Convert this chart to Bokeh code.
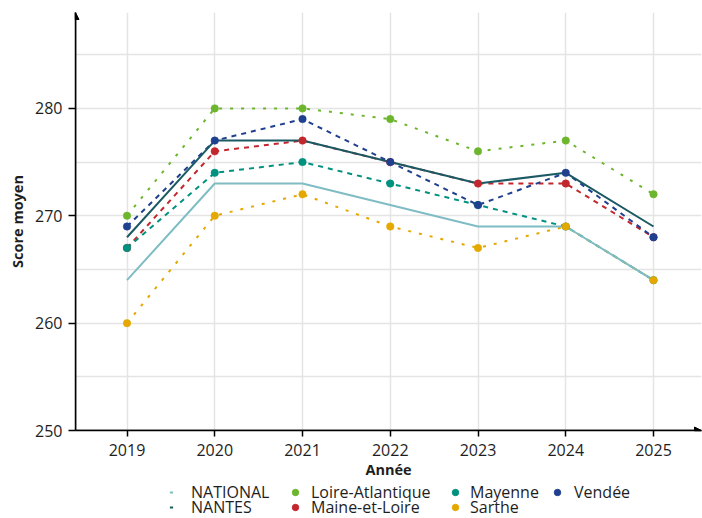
from bokeh.plotting import figure
from bokeh.layouts import column
from bokeh.models import Range1d, FixedTicker, Legend, LegendItem, Arrow, NormalHead
from bokeh.embed import file_html
from bokeh.resources import INLINE

# ---- data ----
years = [2019, 2020, 2021, 2022, 2023, 2024, 2025]
national = [264, 273, 273, 271, 269, 269, 264]
nantes = [268, 277, 277, 275, 273, 274, 269]
loire_atlantique = [270, 280, 280, 279, 276, 277, 272]
maine_et_loire = [267, 276, 277, 275, 273, 273, 268]
mayenne = [267, 274, 275, 273, 271, 269, 264]
sarthe = [260, 270, 272, 269, 267, 269, 264]
vendee = [269, 277, 279, 275, 271, 274, 268]
y_ticks = [250, 260, 270, 280]
y_minor = [255, 265, 275, 285]

X_START, X_END = 2018.413, 2025.547
Y_START, Y_END = 250, 288.93

FONT = "Open Sans"
TXT = "#1e1e1e"
GRID = "#e4e4e4"

H1, H2 = 481, 37

p = figure(width=702, height=H1, output_backend="svg", toolbar_location=None,
           x_range=Range1d(X_START, X_END), y_range=Range1d(Y_START, Y_END),
           min_border_left=75, min_border_right=1, min_border_top=12, min_border_bottom=49)
p.outline_line_color = None
p.background_fill_color = "white"

# grid
p.xaxis.ticker = FixedTicker(ticks=years)
p.yaxis.ticker = FixedTicker(ticks=y_ticks, minor_ticks=y_minor)
p.xgrid.grid_line_color = GRID
p.ygrid.grid_line_color = GRID
p.ygrid.minor_grid_line_color = GRID
p.xgrid.grid_line_width = 1.5
p.ygrid.grid_line_width = 1.5
p.ygrid.minor_grid_line_width = 1.5

# axes
for ax in (p.xaxis[0], p.yaxis[0]):
    ax.axis_line_color = "black"
    ax.axis_line_width = 1.5
    ax.major_tick_line_color = "black"
    ax.major_tick_line_width = 1.5
    ax.major_tick_in = 0
    ax.minor_tick_line_color = None
    ax.major_label_text_font = FONT
    ax.major_label_text_font_size = "16px"
    ax.major_label_text_color = TXT
    ax.axis_label_text_font = FONT
    ax.axis_label_text_font_style = "bold"
    ax.axis_label_text_font_size = "14.5px"
    ax.axis_label_text_color = TXT

p.xaxis.axis_label = "Année"
p.yaxis.axis_label = "Score moyen"
p.xaxis.major_tick_out = 6
p.yaxis.major_tick_out = 7
p.xaxis.major_label_standoff = 7
p.yaxis.major_label_standoff = 6
p.xaxis.axis_label_standoff = 1
p.yaxis.axis_label_standoff = 5

# arrows on axes
p.add_layout(Arrow(end=NormalHead(size=7, fill_color="black", line_color="black", line_width=1),
                   x_start=X_START, y_start=Y_START, x_end=X_START, y_end=Y_END,
                   line_color="black", line_width=1.5))
p.add_layout(Arrow(end=NormalHead(size=7, fill_color="black", line_color="black", line_width=1),
                   x_start=X_START, y_start=Y_START, x_end=X_END, y_end=Y_START,
                   line_color="black", line_width=1.5))

# series styles
C_NAT = "#7fbcc4"
C_NAN = "#1b5a63"
C_LA = "#6cb52d"
C_ML = "#c1272d"
C_MAY = "#00917f"
C_SAR = "#e5a800"
C_VEN = "#1f3f8f"

dashed = [
    (loire_atlantique, C_LA, "3 8"),
    (maine_et_loire, C_ML, "5 5"),
    (mayenne, C_MAY, "5 5"),
    (sarthe, C_SAR, "3 8"),
    (vendee, C_VEN, "5 5"),
]
for vals, col, dash in dashed:
    p.line(years, vals, line_color=col, line_width=2, line_dash=dash)

p.line(years, national, line_color=C_NAT, line_width=2)
p.line(years, nantes, line_color=C_NAN, line_width=2)

for vals, col in [(loire_atlantique, C_LA), (maine_et_loire, C_ML), (mayenne, C_MAY),
                  (sarthe, C_SAR), (vendee, C_VEN)]:
    p.scatter(years, vals, size=7.5, fill_color=col, line_color=col, line_width=0.5)

# ---- legend strip below the chart (its frame is aligned with the chart's frame) ----
lp = figure(width=702, height=H2, output_backend="svg", toolbar_location=None,
            x_range=Range1d(0, 1), y_range=Range1d(0, 1),
            x_axis_type=None, y_axis_type=None,
            min_border_left=0, min_border_right=0, min_border_top=0, min_border_bottom=0)
lp.outline_line_color = None
lp.grid.visible = False

nan_vals = [float("nan")] * len(years)   # legend keys only, nothing drawn


def key(marker, col):
    if marker == "dash":
        return lp.scatter(years, nan_vals, marker="dash", line_color=col, line_width=2)
    return lp.scatter(years, nan_vals, marker="circle", fill_color=col, line_color=col)


# (label, marker, colour, x of key box from frame left, glyph width, label standoff, row)
entries = [
    ("NATIONAL", "dash", C_NAT, 92, 8, 16, 0),
    ("NANTES", "dash", C_NAN, 92, 8, 16, 1),
    ("Loire-Atlantique", "circle", C_LA, 212, 16, 8, 0),
    ("Maine-et-Loire", "circle", C_ML, 212, 16, 8, 1),
    ("Mayenne", "circle", C_MAY, 372, 16, 7, 0),
    ("Sarthe", "circle", C_SAR, 372, 16, 7, 1),
    ("Vendée", "circle", C_VEN, 474, 16, 9, 0),
]
row_y = [15, 0]
for label, marker, col, x0, gw, ls, row in entries:
    r = key(marker, col)
    lg = Legend(items=[LegendItem(label=label, renderers=[r])],
                location=(x0, row_y[row]), orientation="vertical",
                glyph_width=gw, glyph_height=16, label_height=16, label_standoff=ls,
                spacing=0, padding=0, margin=0, border_line_color=None,
                background_fill_alpha=0,
                label_text_font=FONT, label_text_font_size="16px", label_text_color=TXT)
    lp.add_layout(lg, "center")

layout = column(p, lp, spacing=0)
open("out.html", "w").write(file_html(layout, INLINE))
